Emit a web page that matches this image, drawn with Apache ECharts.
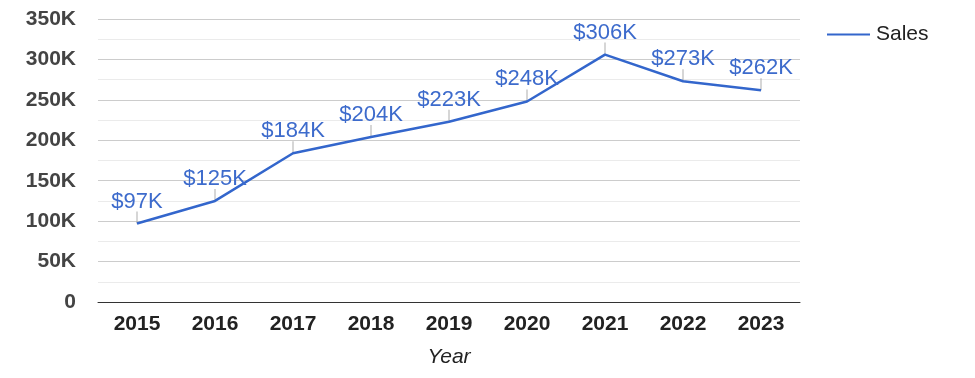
<!DOCTYPE html>
<html>
<head>
<meta charset="utf-8">
<script src="https://cdn.jsdelivr.net/npm/echarts@6/dist/echarts.min.js"></script>
<style>
  html, body { margin: 0; padding: 0; background: #fff; }
  #chart { width: 975px; height: 378px; }
</style>
</head>
<body>
<div id="chart"></div>
<script>
const years = ['2015', '2016', '2017', '2018', '2019', '2020', '2021', '2022', '2023']
const sales = [97000, 125000, 184000, 204000, 223000, 248000, 306000, 273000, 262000]

const font = 'Arial, "Liberation Sans", sans-serif'
const chart = echarts.init(document.getElementById('chart'))

const option = {
  animation: false,
  grid: { left: 98, right: 175, top: 19, bottom: 76, outerBoundsMode: 'none' },
  legend: {
    left: 822,
    top: 19,
    itemWidth: 43,
    itemHeight: 2,
    data: [{ name: 'Sales', icon: 'rect' }],
    textStyle: { fontFamily: font, fontSize: 21, color: '#222', padding: [0, 0, 0, 1] }
  },
  xAxis: {
    type: 'category',
    data: years,
    name: 'Year',
    nameLocation: 'middle',
    nameGap: 45,
    nameTextStyle: { fontFamily: font, fontSize: 21, fontStyle: 'italic', color: '#222' },
    axisLine: { lineStyle: { color: '#333', width: 1 } },
    axisTick: { show: false },
    axisLabel: { fontFamily: font, fontSize: 21, fontWeight: 'bold', color: '#222', margin: 12 }
  },
  yAxis: {
    type: 'value',
    min: 0,
    max: 350000,
    interval: 50000,
    axisLine: { show: false },
    axisTick: { show: false },
    axisLabel: {
      fontFamily: font, fontSize: 21, fontWeight: 'bold', color: '#444', margin: 22,
      formatter: v => (v === 0 ? '0' : v / 1000 + 'K')
    },
    splitLine: { lineStyle: { color: '#ccc' } },
    minorTick: { show: false, splitNumber: 2 },
    minorSplitLine: { show: true, lineStyle: { color: '#ebebeb' } }
  },
  series: [
    {
      name: 'stems',
      type: 'scatter',
      data: sales,
      symbol: 'rect',
      symbolSize: [1, 12],
      symbolOffset: [0, -6],
      itemStyle: { color: '#999' },
      silent: true,
      z: 1
    },
    {
      name: 'Sales',
      type: 'line',
      data: sales,
      showSymbol: true,
      symbol: 'circle',
      symbolSize: 0.1,
      lineStyle: { color: '#3366cc', width: 2.5 },
      itemStyle: { color: '#3366cc' },
      z: 2,
      label: {
        show: true,
        position: 'top',
        distance: 11,
        fontFamily: font,
        fontSize: 22,
        color: '#3d6bcc',
        formatter: p => '$' + Math.round(p.value / 1000) + 'K'
      }
    }
  ]
}

chart.setOption(option)
</script>
</body>
</html>
